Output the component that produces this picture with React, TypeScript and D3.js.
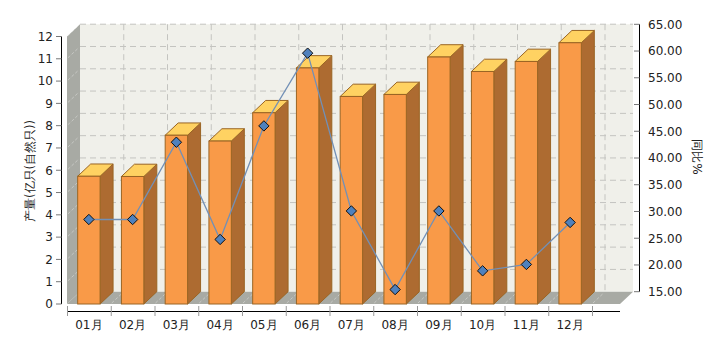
import React from "react";
import * as d3 from "d3";

const months = ["01月", "02月", "03月", "04月", "05月", "06月", "07月", "08月", "09月", "10月", "11月", "12月"];
const output = [5.73, 5.72, 7.57, 7.31, 8.58, 10.59, 9.31, 9.4, 11.08, 10.43, 10.88, 11.72];
const yoy = [28.5, 28.5, 42.95, 24.77, 46.0, 59.6, 30.1, 15.4, 30.1, 18.9, 20.1, 27.95];
const leftTicks = [0, 1, 2, 3, 4, 5, 6, 7, 8, 9, 10, 11, 12];
const rightTicks = [15, 20, 25, 30, 35, 40, 45, 50, 55, 60, 65];
const leftTitle = "产量(亿只(自然只))";
const rightTitle = "同比%";

const W = 720;
const H = 340;
const DX = 13;
const DY = 12.3;
const FONT = "'DejaVu Sans', Verdana, sans-serif";

export default function App() {
  const plotLeft = 67;
  const plotRight = 620;
  const x = d3.scaleBand<string>().domain(months).range([plotLeft, 592]).padding(0);
  const y = d3.scaleLinear().domain([0, 12]).range([304, 36.5]);
  const yR = d3.scaleLinear().domain([15, 65]).range([291.7, 24.3]);
  const bw = x.bandwidth();
  const barW = bw * 0.512;
  const y0 = y(0);
  const yTopBack = y(12) - DY;

  const line = d3
    .line<number>()
    .x((_, i) => (x(months[i]) as number) + bw / 2)
    .y((d) => yR(d));

  const gridColor = "#c4c4c0";

  return (
    <svg width={W} height={H} style={{ position: "absolute", left: 0, top: 0, background: "#fff" }} fontFamily={FONT}>
      {/* back wall */}
      <rect x={plotLeft + DX} y={yTopBack} width={plotRight - plotLeft} height={y0 - y(12)} fill="#f0f0ea" />
      {/* left wall */}
      <polygon
        points={`${plotLeft},${y(12)} ${plotLeft + DX},${yTopBack} ${plotLeft + DX},${y0 - DY} ${plotLeft},${y0}`}
        fill="#a8aaa4"
      />
      {/* floor */}
      <polygon
        points={`${plotLeft},${y0} ${plotLeft + DX},${y0 - DY} ${plotRight + DX},${y0 - DY} ${plotRight},${y0}`}
        fill="#a8aaa4"
      />
      {/* horizontal gridlines on back wall */}
      {leftTicks.slice(1).map((t) => (
        <line
          key={"hg" + t}
          x1={plotLeft + DX}
          x2={plotRight + DX}
          y1={y(t) - DY}
          y2={y(t) - DY}
          stroke={gridColor}
          strokeDasharray="6,4"
        />
      ))}
      {/* hatch on left wall */}
      {leftTicks.slice(1).map((t) => (
        <line
          key={"lw" + t}
          x1={plotLeft + 1}
          x2={plotLeft + DX - 1}
          y1={y(t) - 1}
          y2={y(t) - DY + 1}
          stroke="#ffffff"
          strokeOpacity={0.35}
          strokeDasharray="3,2"
        />
      ))}
      {/* vertical gridlines on back wall */}
      {months.map((m, i) => {
        const gx = (x(m) as number) + bw + DX;
        return (
          <line key={"vg" + i} x1={gx} x2={gx} y1={yTopBack} y2={y0 - DY} stroke={gridColor} strokeDasharray="6,4" />
        );
      })}
      {/* hatch on floor */}
      {months.map((m, i) => {
        const gx = (x(m) as number) + bw;
        return (
          <line
            key={"fh" + i}
            x1={gx + 1}
            x2={gx + DX - 1}
            y1={y0 - 1}
            y2={y0 - DY + 1}
            stroke="#ffffff"
            strokeOpacity={0.35}
            strokeDasharray="3,2"
          />
        );
      })}
      {/* bars */}
      {output.map((v, i) => {
        const bx = (x(months[i]) as number) + (bw - barW) / 2;
        const by = y(v);
        const st = "#9a6524";
        return (
          <g key={"bar" + i}>
            <polygon
              points={`${bx + barW},${by} ${bx + barW + DX},${by - DY} ${bx + barW + DX},${y0 - DY} ${bx + barW},${y0}`}
              fill="#ad6b31"
              stroke={st}
              strokeWidth={1}
            />
            <polygon
              points={`${bx},${by} ${bx + DX},${by - DY} ${bx + barW + DX},${by - DY} ${bx + barW},${by}`}
              fill="#ffd262"
              stroke={st}
              strokeWidth={1}
            />
            <rect x={bx} y={by} width={barW} height={y0 - by} fill="#f99a48" stroke={st} strokeWidth={1} />
          </g>
        );
      })}
      {/* line */}
      <path d={line(yoy) as string} fill="none" stroke="#7290b6" strokeWidth={1.3} />
      {yoy.map((v, i) => {
        const cx = (x(months[i]) as number) + bw / 2;
        const cy = yR(v);
        const r = 5.2;
        return (
          <polygon
            key={"mk" + i}
            points={`${cx},${cy - r} ${cx + r},${cy} ${cx},${cy + r} ${cx - r},${cy}`}
            fill="#4f81bd"
            stroke="#111"
            strokeWidth={1}
          />
        );
      })}
      {/* left axis */}
      <line x1={61.5} x2={61.5} y1={y(12)} y2={y0} stroke="#000" />
      {leftTicks.map((t) => (
        <g key={"lt" + t}>
          <line x1={56} x2={61.5} y1={y(t)} y2={y(t)} stroke="#777" />
          <text x={53} y={y(t)} dy="0.36em" textAnchor="end" fontSize={12} fill="#222">
            {t}
          </text>
        </g>
      ))}
      <text
        transform={`translate(30,${171}) rotate(-90)`}
        textAnchor="middle"
        dy="0.36em"
        fontSize={11.5}
        fill="#222"
      >
        {leftTitle}
      </text>
      {/* right axis */}
      <line x1={639.5} x2={639.5} y1={yR(65)} y2={yR(15)} stroke="#000" />
      {rightTicks.map((t) => (
        <g key={"rt" + t}>
          <line x1={634} x2={639.5} y1={yR(t)} y2={yR(t)} stroke="#777" />
          <text x={648} y={yR(t)} dy="0.36em" textAnchor="start" fontSize={12} fill="#222">
            {t.toFixed(2)}
          </text>
        </g>
      ))}
      <text
        transform={`translate(697,${157}) rotate(90)`}
        textAnchor="middle"
        dy="0.36em"
        fontSize={12}
        fill="#222"
      >
        {rightTitle}
      </text>
      {/* bottom axis */}
      <line x1={plotLeft} x2={plotRight} y1={311.5} y2={311.5} stroke="#000" />
      {months.map((m, i) => (
        <line
          key={"bt" + i}
          x1={(x(m) as number) + 0.5}
          x2={(x(m) as number) + 0.5}
          y1={306}
          y2={316}
          stroke="#999"
        />
      ))}
      <line x1={592.5} x2={592.5} y1={306} y2={316} stroke="#999" />
      {months.map((m) => (
        <text
          key={"bl" + m}
          x={(x(m) as number) + bw / 2}
          y={325}
          dy="0.36em"
          textAnchor="middle"
          fontSize={12}
          fill="#222"
        >
          {m}
        </text>
      ))}
    </svg>
  );
}
